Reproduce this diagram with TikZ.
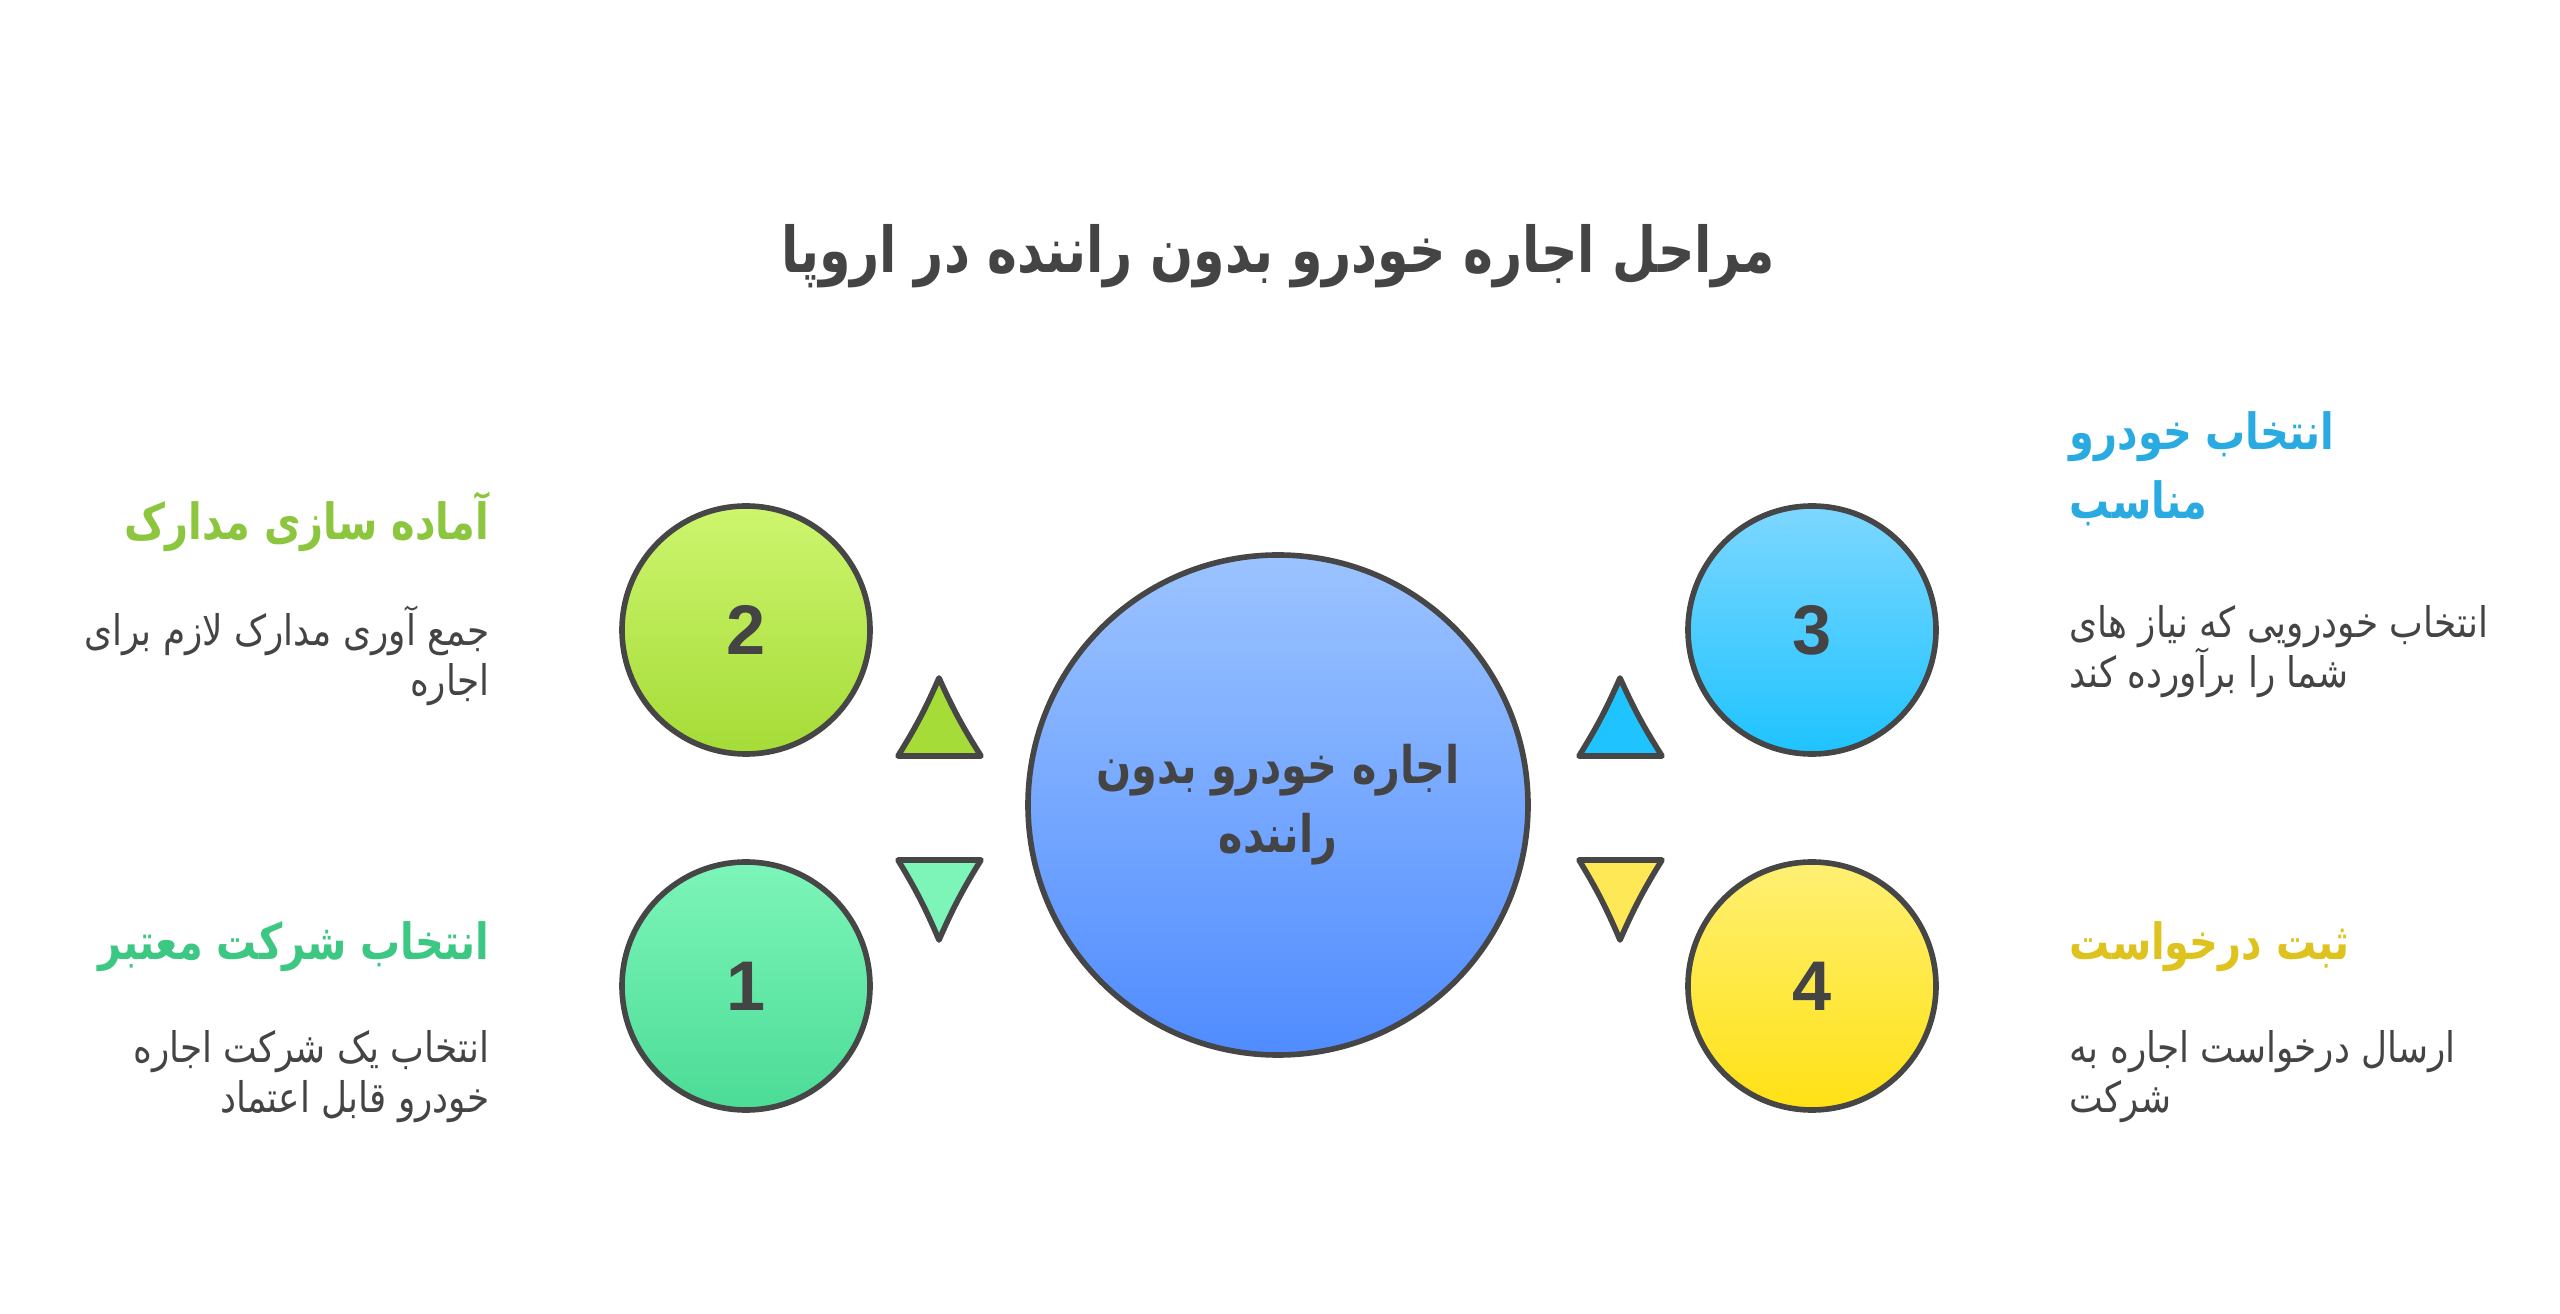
\documentclass[tikz,border=0pt]{standalone}
\usepackage{fontspec}
\usepackage{xcolor}
\setmainfont{Liberation Sans}
\newfontfamily\arabicfont[Script=Arabic, FakeStretch=0.85]{DejaVu Sans}
\newfontfamily\arabicbold[Script=Arabic, FakeStretch=0.8]{DejaVu Sans Bold}
\TeXXeTstate=1
\usetikzlibrary{positioning}
\definecolor{textgray}{RGB}{68,68,68}
\definecolor{edgegray}{RGB}{70,70,70}
\definecolor{headgreen}{RGB}{140,198,63}
\definecolor{headmint}{RGB}{60,200,130}
\definecolor{headblue}{RGB}{41,171,226}
\definecolor{headyellow}{RGB}{222,195,30}
\definecolor{limetop}{RGB}{205,245,110}
\definecolor{limebot}{RGB}{165,220,55}
\definecolor{minttop}{RGB}{125,245,185}
\definecolor{mintbot}{RGB}{75,220,150}
\definecolor{skytop}{RGB}{125,215,255}
\definecolor{skybot}{RGB}{30,195,255}
\definecolor{suntop}{RGB}{255,240,115}
\definecolor{sunbot}{RGB}{255,225,20}
\definecolor{hubtop}{RGB}{155,195,255}
\definecolor{hubbot}{RGB}{80,140,255}
\begin{document}
\begin{tikzpicture}[
  stepcircle/.style={circle, draw=edgegray, line width=1.6pt, inner sep=0pt,
    minimum size=2.48cm, text=textgray, font=\fontsize{20}{24}\selectfont\bfseries},
  headtext/.style={inner sep=0pt, font=\arabicbold\fontsize{14.2}{19.6}\selectfont},
  bodytext/.style={inner sep=0pt, text=textgray, font=\arabicfont\fontsize{12}{14.2}\selectfont},
  tri/.style={draw=edgegray, line width=1.6pt, line join=round}
]
\useasboundingbox (0,0) rectangle (25.6,13.13);

% Title
\node[text=textgray, font=\arabicbold\fontsize{18}{22}\selectfont] (title) at (12.78,10.57)
  {\beginR مراحل اجاره خودرو بدون راننده در اروپا\endR};

% Central circle
\node[circle, draw=edgegray, line width=1.6pt, minimum size=5cm, top color=hubtop, bottom color=hubbot,
  text=textgray, align=center, font=\arabicbold\fontsize{14.7}{19.6}\selectfont] (hub) at (12.78,5.08)
  {\beginR اجاره خودرو بدون\endR\\\beginR راننده\endR};

% Step circles
\node[stepcircle, top color=limetop, bottom color=limebot] (two) at (7.46,6.83) {2};
\node[stepcircle, top color=minttop, bottom color=mintbot] (one) at (7.46,3.27) {1};
\node[stepcircle, top color=skytop, bottom color=skybot] (three) at (18.12,6.83) {3};
\node[stepcircle, top color=suntop, bottom color=sunbot] (four) at (18.12,3.27) {4};

% Triangles
\draw[tri, fill=limebot] (8.98,5.57) to[bend right=4] (9.39,6.35) to[bend right=4] (9.81,5.57) -- cycle;
\draw[tri, fill=minttop] (8.98,4.53) to[bend left=4] (9.39,3.73) to[bend left=4] (9.81,4.53) -- cycle;
\draw[tri, fill=skybot] (15.79,5.57) to[bend right=4] (16.20,6.35) to[bend right=4] (16.62,5.57) -- cycle;
\draw[tri, fill={rgb,255:red,255;green,232;blue,85}] (15.79,4.53) to[bend left=4] (16.20,3.73) to[bend left=4] (16.62,4.53) -- cycle;

% Left texts
\node[headtext, text=headgreen, anchor=east] (twohead) at (4.90,7.91)
  {\beginR آماده سازی مدارک\endR};
\node[bodytext, align=right, anchor=north east] (twobody) at (4.90,7.08)
  {\beginR جمع آوری مدارک لازم برای\endR\\\beginR اجاره\endR};
\node[headtext, text=headmint, anchor=east] (onehead) at (4.90,3.66)
  {\beginR انتخاب شرکت معتبر\endR};
\node[bodytext, align=right, anchor=north east] (onebody) at (4.90,2.83)
  {\beginR انتخاب یک شرکت اجاره\endR\\\beginR خودرو قابل اعتماد\endR};

% Right texts
\node[headtext, text=headblue, align=left, anchor=north west] (threehead) at (20.69,9.02)
  {\beginR انتخاب خودرو\endR\\\beginR مناسب\endR};
\node[bodytext, align=left, anchor=north west] (threebody) at (20.69,7.08)
  {\beginR انتخاب خودرویی که نیاز های\endR\\\beginR شما را برآورده کند\endR};
\node[headtext, text=headyellow, anchor=west] (fourhead) at (20.69,3.66)
  {\beginR ثبت درخواست\endR};
\node[bodytext, align=left, anchor=north west] (fourbody) at (20.69,2.83)
  {\beginR ارسال درخواست اجاره به\endR\\\beginR شرکت\endR};
\end{tikzpicture}
\end{document}
